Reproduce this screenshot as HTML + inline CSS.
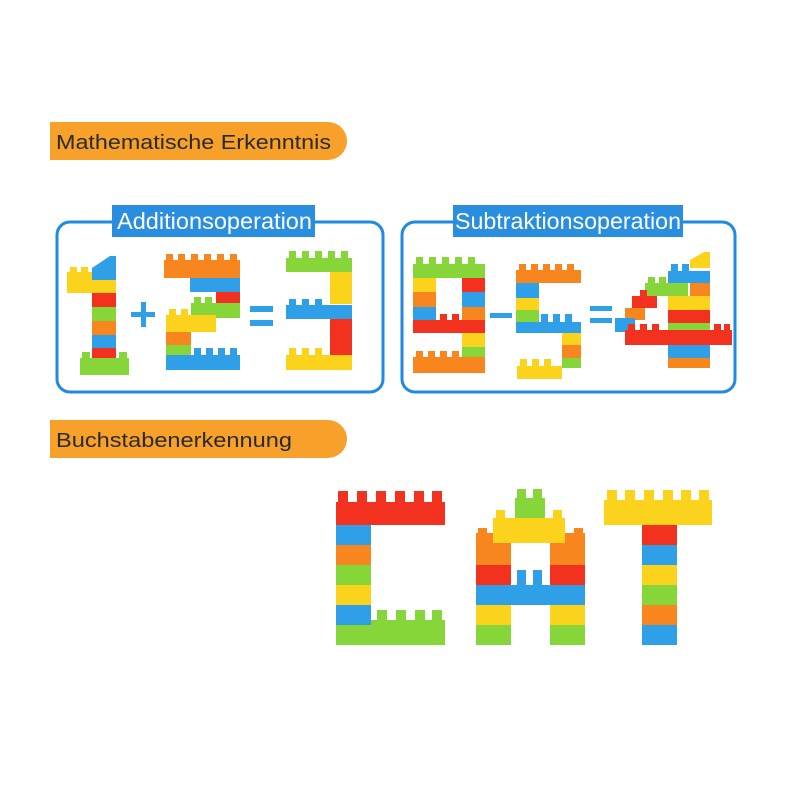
<!DOCTYPE html>
<html><head><meta charset="utf-8"><style>
body{margin:0;background:#fff;width:800px;height:800px;overflow:hidden;font-family:"Liberation Sans",sans-serif}
</style></head><body>
<svg width="800" height="800" xmlns="http://www.w3.org/2000/svg" font-family="Liberation Sans, sans-serif">
<defs>
<style>.r{fill:#f2311f}.o{fill:#f7861f}.y{fill:#fbd21c}.g{fill:#86d63a}.b{fill:#2fa0e8}</style>
</defs>
<!-- headers -->
<path d="M50 122 H328 A19 19 0 0 1 328 160 H50 Z" fill="#f7a12a"/>
<text x="56" y="149" font-size="20" fill="#2a2a2a" textLength="275" lengthAdjust="spacingAndGlyphs">Mathematische Erkenntnis</text>
<path d="M50 420 H328 A19 19 0 0 1 328 458 H50 Z" fill="#f7a12a"/>
<text x="56" y="447" font-size="20" fill="#2a2a2a" textLength="236" lengthAdjust="spacingAndGlyphs">Buchstabenerkennung</text>
<!-- boxes -->
<rect x="57" y="222" width="326" height="170" rx="13" fill="none" stroke="#1f8ae0" stroke-width="3"/>
<rect x="112" y="205" width="203" height="32" fill="#2a8ee0"/>
<text x="117" y="229" font-size="23" fill="#fff" textLength="195" lengthAdjust="spacingAndGlyphs">Additionsoperation</text>
<rect x="402" y="222" width="333" height="170" rx="13" fill="none" stroke="#1f8ae0" stroke-width="3"/>
<rect x="453" y="205" width="230" height="32" fill="#2a8ee0"/>
<text x="455" y="229" font-size="23" fill="#fff" textLength="226" lengthAdjust="spacingAndGlyphs">Subtraktionsoperation</text>
<!-- 1 -->
<rect class="y" x="67" y="272" width="25" height="21"/><rect class="y" x="70" y="267" width="7" height="6"/><rect class="y" x="81" y="267" width="7" height="6"/>
<path class="b" d="M92 268 L110 256 L116 256 L116 280 L92 280Z"/>
<rect class="y" x="92" y="280" width="24" height="13"/>
<rect class="r" x="92" y="293" width="24" height="14"/>
<rect class="g" x="92" y="307" width="24" height="14"/>
<rect class="o" x="92" y="321" width="24" height="14"/>
<rect class="b" x="92" y="335" width="24" height="13"/>
<rect class="r" x="92" y="348" width="24" height="12"/>
<rect class="g" x="80" y="358" width="49" height="17"/><rect class="g" x="82" y="352" width="8" height="7"/><rect class="g" x="119" y="352" width="8" height="7"/>
<!-- + -->
<rect class="b" x="131" y="312" width="24" height="5"/><rect class="b" x="141" y="302" width="5" height="25"/>
<!-- 2 -->
<rect class="o" x="164" y="260" width="76" height="18"/>
<rect class="o" x="166" y="254" width="7" height="7"/><rect class="o" x="178" y="254" width="7" height="7"/><rect class="o" x="191" y="254" width="7" height="7"/><rect class="o" x="204" y="254" width="7" height="7"/><rect class="o" x="217" y="254" width="7" height="7"/><rect class="o" x="230" y="254" width="7" height="7"/>
<rect class="b" x="190" y="278" width="50" height="14"/>
<rect class="r" x="216" y="292" width="24" height="14"/>
<rect class="g" x="191" y="303" width="49" height="15"/><rect class="g" x="194" y="297" width="7" height="7"/><rect class="g" x="205" y="297" width="7" height="7"/>
<rect class="y" x="166" y="315" width="50" height="17"/><rect class="y" x="169" y="309" width="7" height="7"/><rect class="y" x="181" y="309" width="7" height="7"/>
<rect class="o" x="166" y="332" width="25" height="13"/>
<rect class="g" x="166" y="345" width="25" height="13"/>
<rect class="b" x="166" y="355" width="74" height="15"/>
<rect class="b" x="194" y="348" width="7" height="7"/><rect class="b" x="206" y="348" width="7" height="7"/><rect class="b" x="218" y="348" width="7" height="7"/><rect class="b" x="230" y="348" width="7" height="7"/>
<!-- = -->
<rect class="b" x="250" y="306" width="23" height="6"/><rect class="b" x="250" y="320" width="23" height="6"/>
<!-- 3 -->
<rect class="g" x="286" y="258" width="66" height="14"/>
<rect class="g" x="289" y="251" width="7" height="7"/><rect class="g" x="302" y="251" width="7" height="7"/><rect class="g" x="315" y="251" width="7" height="7"/><rect class="g" x="328" y="251" width="7" height="7"/><rect class="g" x="341" y="251" width="7" height="7"/>
<rect class="y" x="330" y="272" width="22" height="32"/>
<rect class="b" x="286" y="305" width="66" height="14"/><rect class="b" x="289" y="299" width="7" height="7"/><rect class="b" x="302" y="299" width="7" height="7"/><rect class="b" x="315" y="299" width="7" height="7"/>
<rect class="r" x="330" y="319" width="22" height="36"/>
<rect class="y" x="286" y="355" width="66" height="15"/><rect class="y" x="289" y="348" width="7" height="7"/><rect class="y" x="302" y="348" width="7" height="7"/><rect class="y" x="315" y="348" width="7" height="7"/>
<!-- 9 -->
<rect class="g" x="413" y="264" width="72" height="14"/>
<rect class="g" x="416" y="257" width="7" height="7"/><rect class="g" x="429" y="257" width="7" height="7"/><rect class="g" x="442" y="257" width="7" height="7"/><rect class="g" x="455" y="257" width="7" height="7"/><rect class="g" x="468" y="257" width="7" height="7"/>
<rect class="y" x="413" y="278" width="23" height="14"/><rect class="o" x="413" y="292" width="23" height="15"/><rect class="b" x="413" y="307" width="23" height="13"/>
<rect class="r" x="462" y="278" width="23" height="14"/><rect class="b" x="462" y="292" width="23" height="15"/><rect class="o" x="462" y="307" width="23" height="13"/>
<rect class="r" x="413" y="320" width="72" height="13"/><rect class="r" x="440" y="314" width="7" height="7"/><rect class="r" x="452" y="314" width="7" height="7"/>
<rect class="y" x="462" y="333" width="23" height="14"/><rect class="g" x="462" y="347" width="23" height="10"/>
<rect class="o" x="413" y="357" width="72" height="16"/><rect class="o" x="416" y="351" width="7" height="7"/><rect class="o" x="428" y="351" width="7" height="7"/><rect class="o" x="440" y="351" width="7" height="7"/><rect class="o" x="452" y="351" width="7" height="7"/>
<!-- - -->
<rect class="b" x="490" y="313" width="22" height="5"/>
<!-- 5 -->
<rect class="o" x="516" y="270" width="65" height="13"/>
<rect class="o" x="519" y="264" width="7" height="7"/><rect class="o" x="531" y="264" width="7" height="7"/><rect class="o" x="543" y="264" width="7" height="7"/><rect class="o" x="555" y="264" width="7" height="7"/><rect class="o" x="567" y="264" width="7" height="7"/>
<rect class="b" x="516" y="283" width="23" height="15"/><rect class="y" x="516" y="298" width="23" height="12"/><rect class="g" x="516" y="310" width="23" height="12"/>
<rect class="b" x="516" y="322" width="65" height="11"/><rect class="b" x="541" y="314" width="7" height="8"/><rect class="b" x="553" y="314" width="7" height="8"/><rect class="b" x="565" y="314" width="7" height="8"/>
<rect class="y" x="562" y="333" width="19" height="12"/><rect class="o" x="562" y="345" width="19" height="13"/><rect class="g" x="562" y="358" width="19" height="10"/>
<rect class="y" x="517" y="366" width="45" height="13"/><rect class="y" x="520" y="359" width="7" height="7"/><rect class="y" x="532" y="359" width="7" height="7"/><rect class="y" x="544" y="359" width="7" height="7"/>
<!-- = -->
<rect class="b" x="590" y="306" width="22" height="5"/><rect class="b" x="590" y="318" width="22" height="5"/>
<!-- 4 -->
<path class="y" d="M690 268 L690 260 L704 252 L710 252 L710 268Z"/>
<rect class="b" x="668" y="271" width="42" height="12"/><rect class="b" x="671" y="264" width="7" height="7"/><rect class="b" x="682" y="264" width="7" height="7"/>
<rect class="o" x="690" y="283" width="20" height="13"/>
<rect class="g" x="645" y="283" width="43" height="13"/><rect class="g" x="648" y="277" width="7" height="7"/><rect class="g" x="659" y="277" width="7" height="7"/>
<rect class="y" x="668" y="296" width="42" height="14"/>
<rect class="r" x="632" y="296" width="25" height="12"/><rect class="r" x="640" y="290" width="7" height="7"/>
<rect class="o" x="625" y="308" width="20" height="12"/>
<rect class="b" x="615" y="318" width="20" height="14"/>
<rect class="r" x="668" y="310" width="42" height="13"/>
<rect class="g" x="668" y="323" width="42" height="8"/>
<rect class="r" x="625" y="330" width="107" height="15"/>
<rect class="r" x="628" y="324" width="7" height="7"/><rect class="r" x="640" y="324" width="7" height="7"/><rect class="r" x="652" y="324" width="7" height="7"/><rect class="r" x="714" y="324" width="7" height="7"/><rect class="r" x="724" y="324" width="6" height="7"/>
<rect class="b" x="668" y="345" width="42" height="13"/><rect class="o" x="668" y="358" width="42" height="10"/>
<!-- C -->
<rect class="r" x="336" y="502" width="109" height="23"/>
<rect class="r" x="338" y="491" width="10" height="12"/><rect class="r" x="357" y="491" width="10" height="12"/><rect class="r" x="376" y="491" width="10" height="12"/><rect class="r" x="395" y="491" width="10" height="12"/><rect class="r" x="414" y="491" width="10" height="12"/><rect class="r" x="432" y="491" width="10" height="12"/>
<rect class="b" x="336" y="525" width="35" height="20"/><rect class="o" x="336" y="545" width="35" height="20"/><rect class="g" x="336" y="565" width="35" height="20"/><rect class="y" x="336" y="585" width="35" height="20"/><rect class="b" x="336" y="605" width="35" height="20"/>
<rect class="g" x="336" y="625" width="109" height="20"/><rect class="g" x="371" y="620" width="74" height="6"/>
<rect class="g" x="377" y="610" width="10" height="11"/><rect class="g" x="396" y="610" width="10" height="11"/><rect class="g" x="415" y="610" width="10" height="11"/><rect class="g" x="432" y="610" width="10" height="11"/>
<!-- A -->
<rect class="g" x="515" y="498" width="30" height="20"/><rect class="g" x="517" y="489" width="9" height="10"/><rect class="g" x="533" y="489" width="9" height="10"/>
<rect class="o" x="476" y="533" width="35" height="32"/><rect class="o" x="478" y="528" width="9" height="6"/>
<rect class="o" x="550" y="533" width="35" height="32"/><rect class="o" x="574" y="528" width="9" height="6"/>
<rect class="y" x="493" y="518" width="72" height="25"/><rect class="y" x="496" y="510" width="9" height="9"/><rect class="y" x="553" y="510" width="9" height="9"/>
<rect class="r" x="476" y="565" width="35" height="20"/><rect class="r" x="550" y="565" width="35" height="20"/>
<rect class="b" x="476" y="585" width="109" height="20"/><rect class="b" x="517" y="570" width="9" height="16"/><rect class="b" x="533" y="570" width="9" height="16"/>
<rect class="y" x="476" y="605" width="35" height="20"/><rect class="y" x="550" y="605" width="35" height="20"/>
<rect class="g" x="476" y="625" width="35" height="20"/><rect class="g" x="550" y="625" width="35" height="20"/>
<!-- T -->
<rect class="y" x="604" y="500" width="108" height="25"/>
<rect class="y" x="607" y="490" width="10" height="11"/><rect class="y" x="625" y="490" width="10" height="11"/><rect class="y" x="644" y="490" width="10" height="11"/><rect class="y" x="663" y="490" width="10" height="11"/><rect class="y" x="681" y="490" width="10" height="11"/><rect class="y" x="699" y="490" width="10" height="11"/>
<rect class="r" x="642" y="525" width="35" height="20"/><rect class="b" x="642" y="545" width="35" height="20"/><rect class="y" x="642" y="565" width="35" height="20"/><rect class="g" x="642" y="585" width="35" height="20"/><rect class="o" x="642" y="605" width="35" height="20"/><rect class="b" x="642" y="625" width="35" height="20"/>
</svg>
</body></html>
